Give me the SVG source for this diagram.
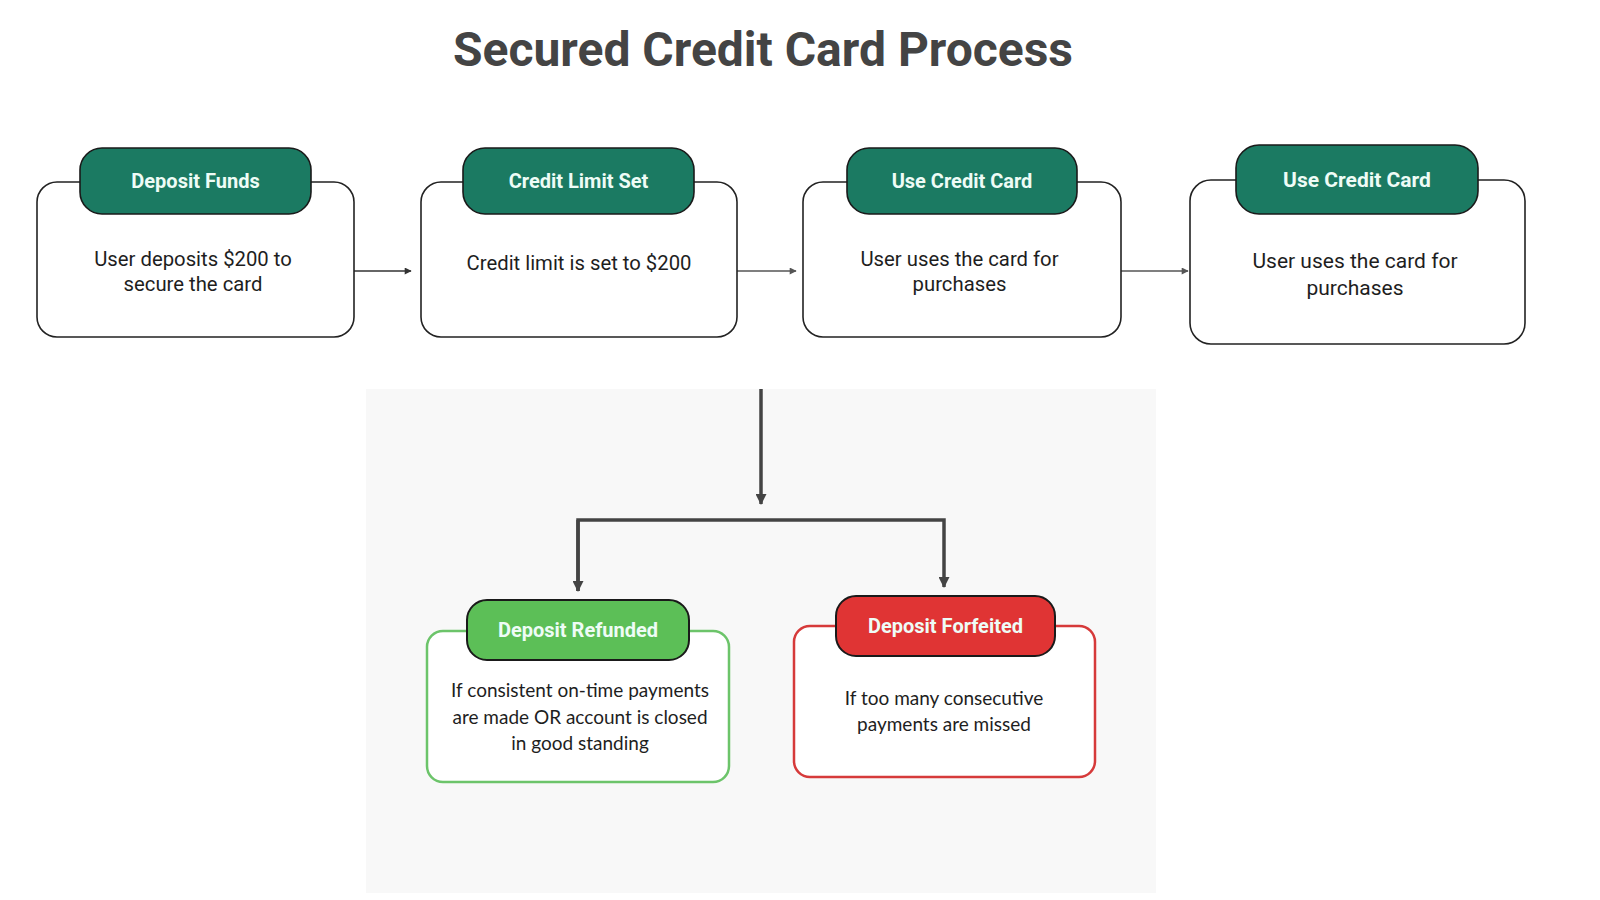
<svg xmlns="http://www.w3.org/2000/svg" width="1600" height="900" viewBox="0 0 1600 900">
  <defs>
    <style>
      .title { font-family: Roboto, "Liberation Sans", sans-serif; font-weight: 700; font-size: 48px; fill: #444444; }
      .card { fill: #ffffff; stroke: #222222; stroke-width: 1.6; }
      .hdr { fill: #1b7a62; stroke: #1a1a1a; stroke-width: 1.6; }
      .hdrtxt { font-family: Roboto, "Liberation Sans", sans-serif; font-weight: 700; font-size: 20px; fill: #eefcf6; text-anchor: middle; }
      .body { font-family: Roboto, "Liberation Sans", sans-serif; font-size: 20.3px; fill: #1e1e1e; text-anchor: middle; }
      .body2 { font-family: Lato, "Open Sans", "Liberation Sans", sans-serif; font-size: 19px; fill: #1e1e1e; text-anchor: middle; }
      .conn { fill: none; stroke: #333333; stroke-width: 1.6; }
      .conn2 { fill: none; stroke: #555555; stroke-width: 1.6; }
      .tree { fill: none; stroke: #444444; stroke-width: 3.5; }
    </style>
    <marker id="ah" viewBox="0 0 10 10" refX="9" refY="5" markerWidth="8" markerHeight="7" orient="auto" markerUnits="userSpaceOnUse">
      <path d="M0,0 L10,5 L0,10 z" fill="#333333"/>
    </marker>
    <marker id="ah2" viewBox="0 0 10 10" refX="9" refY="5" markerWidth="8" markerHeight="7" orient="auto" markerUnits="userSpaceOnUse">
      <path d="M0,0 L10,5 L0,10 z" fill="#555555"/>
    </marker>
    <marker id="ahT" viewBox="0 0 10 10" refX="9" refY="5" markerWidth="12" markerHeight="11" orient="auto" markerUnits="userSpaceOnUse">
      <path d="M0,0 L10,5 L0,10 z" fill="#444444"/>
    </marker>
  </defs>

  <rect x="0" y="0" width="1600" height="900" fill="#ffffff"/>
  <rect x="366" y="389" width="790" height="504" fill="#f8f8f8"/>

  <text class="title" x="763" y="66" text-anchor="middle">Secured Credit Card Process</text>

  <g id="connectors">
    <line class="conn" x1="354" y1="271" x2="411" y2="271" marker-end="url(#ah)"/>
    <line class="conn2" x1="737" y1="271" x2="796" y2="271" marker-end="url(#ah2)"/>
    <line class="conn2" x1="1121" y1="271" x2="1188" y2="271" marker-end="url(#ah2)"/>
    <line class="tree" x1="761" y1="389" x2="761" y2="504" marker-end="url(#ahT)"/>
    <path class="tree" d="M578,591 L578,520 L944,520 L944,587" marker-end="url(#ahT)"/>
    <path class="tree" d="M578,520 L578,591" marker-end="url(#ahT)"/>
  </g>

  <g id="node-deposit-funds">
    <rect class="card" x="37" y="182" width="317" height="155" rx="20"/>
    <rect class="hdr" x="80" y="148" width="231" height="66" rx="22"/>
    <text class="hdrtxt" x="195.5" y="188">Deposit Funds</text>
    <text class="body" x="193" y="266">User deposits $200 to</text>
    <text class="body" x="193" y="291">secure the card</text>
  </g>

  <g id="node-credit-limit">
    <rect class="card" x="421" y="182" width="316" height="155" rx="20"/>
    <rect class="hdr" x="463" y="148" width="231" height="66" rx="22"/>
    <text class="hdrtxt" x="578.5" y="188">Credit Limit Set</text>
    <text class="body" x="579" y="270">Credit limit is set to $200</text>
  </g>

  <g id="node-use-card-1">
    <rect class="card" x="803" y="182" width="318" height="155" rx="20"/>
    <rect class="hdr" x="847" y="148" width="230" height="66" rx="22"/>
    <text class="hdrtxt" x="962" y="188">Use Credit Card</text>
    <text class="body" x="959.5" y="266">User uses the card for</text>
    <text class="body" x="959.5" y="291">purchases</text>
  </g>

  <g id="node-use-card-2">
    <rect class="card" x="1190" y="180" width="335" height="164" rx="21"/>
    <rect class="hdr" x="1236" y="145" width="242" height="69" rx="23"/>
    <text class="hdrtxt" x="1357" y="187" style="font-size:21px">Use Credit Card</text>
    <text class="body" x="1355" y="268" style="font-size:21px">User uses the card for</text>
    <text class="body" x="1355" y="295" style="font-size:21px">purchases</text>
  </g>

  <g id="node-deposit-refunded">
    <rect x="427" y="631" width="302" height="151" rx="16" fill="#ffffff" stroke="#6cc46a" stroke-width="2.5"/>
    <rect x="467" y="600" width="222" height="60" rx="20" fill="#5cbf57" stroke="#1a1a1a" stroke-width="2"/>
    <text class="hdrtxt" x="578" y="637">Deposit Refunded</text>
    <text class="body2" x="580" y="697">If consistent on-time payments</text>
    <text class="body2" x="580" y="723.5">are made OR account is closed</text>
    <text class="body2" x="580" y="750">in good standing</text>
  </g>

  <g id="node-deposit-forfeited">
    <rect x="794" y="626" width="301" height="151" rx="16" fill="#ffffff" stroke="#d63a3a" stroke-width="2.5"/>
    <rect x="836" y="596" width="219" height="60" rx="20" fill="#e03434" stroke="#1a1a1a" stroke-width="2"/>
    <text class="hdrtxt" x="945.5" y="633">Deposit Forfeited</text>
    <text class="body2" x="944" y="705">If too many consecutive</text>
    <text class="body2" x="944" y="731">payments are missed</text>
  </g>
</svg>
